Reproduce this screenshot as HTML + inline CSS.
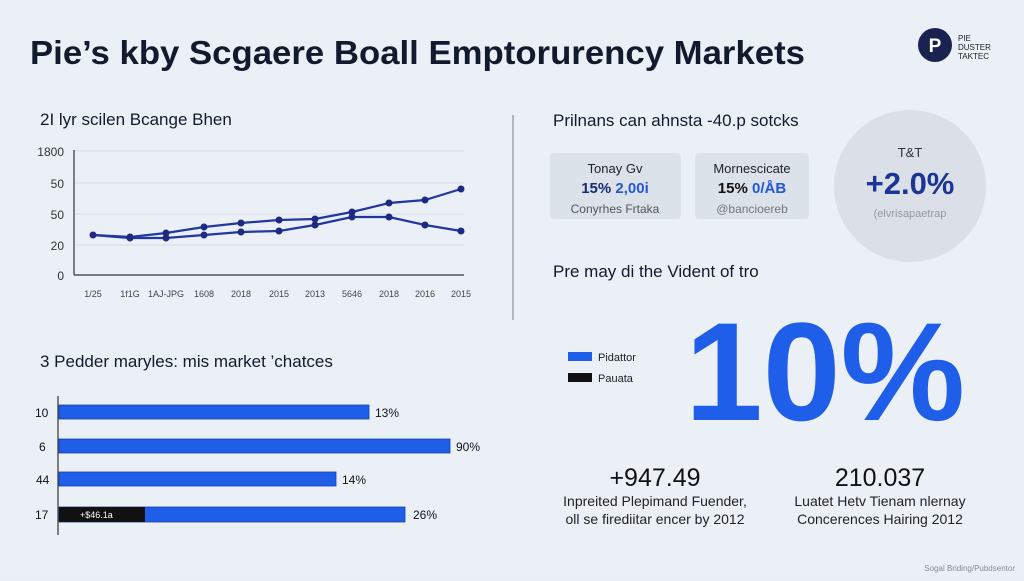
<!DOCTYPE html>
<html><head><meta charset="utf-8"><style>
body{margin:0;width:1024px;height:576px;overflow:hidden;background:#eaeff6;font-family:"Liberation Sans",sans-serif}
</style></head><body>
<svg width="1024" height="576" xmlns="http://www.w3.org/2000/svg" font-family="Liberation Sans, sans-serif">
<rect width="1024" height="576" fill="#ebf0f7"/>
<text x="30" y="64" font-size="33" font-weight="bold" fill="#121a2e" textLength="775" lengthAdjust="spacingAndGlyphs">Pie’s kby Scgaere Boall Emptorurency Markets</text>
<circle cx="935" cy="45" r="17" fill="#1a2250"/>
<text x="935" y="52" font-size="19" font-weight="bold" fill="#fff" text-anchor="middle">P</text>
<text x="958" y="41" font-size="8" fill="#222">PIE</text>
<text x="958" y="50" font-size="8" fill="#222">DUSTER</text>
<text x="958" y="59" font-size="8" fill="#222">TAKTEC</text>
<line x1="513" y1="115" x2="513" y2="320" stroke="#9aa3b0" stroke-width="1.5"/>
<text x="40" y="125" font-size="17" fill="#121a2e">2I lyr scilen Bcange Bhen</text>
<g stroke="#d6dce5" stroke-width="1"><line x1="74" y1="151" x2="464" y2="151"/><line x1="74" y1="183" x2="464" y2="183"/><line x1="74" y1="214" x2="464" y2="214"/><line x1="74" y1="245" x2="464" y2="245"/></g>
<line x1="74" y1="150" x2="74" y2="275" stroke="#333" stroke-width="1.2"/>
<line x1="74" y1="275" x2="464" y2="275" stroke="#333" stroke-width="1.2"/>
<g font-size="12" fill="#333" text-anchor="end"><text x="64" y="156">1800</text><text x="64" y="188">50</text><text x="64" y="219">50</text><text x="64" y="250">20</text><text x="64" y="280">0</text></g>
<g font-size="9" fill="#444" text-anchor="middle"><text x="93" y="297">1/25</text><text x="130" y="297">1f1G</text><text x="166" y="297">1AJ-JPG</text><text x="204" y="297">1608</text><text x="241" y="297">2018</text><text x="279" y="297">2015</text><text x="315" y="297">2013</text><text x="352" y="297">5646</text><text x="389" y="297">2018</text><text x="425" y="297">2016</text><text x="461" y="297">2015</text></g>
<g stroke="#2236a0" stroke-width="2.2" fill="none">
<polyline points="93,235 130,237 166,233 204,227 241,223 279,220 315,219 352,212 389,203 425,200 461,189"/>
<polyline points="93,235 130,238 166,238 204,235 241,232 279,231 315,225 352,217 389,217 425,225 461,231"/>
</g>
<g fill="#1d2a80">
<circle cx="93" cy="235" r="3.5"/><circle cx="130" cy="237" r="3.5"/><circle cx="166" cy="233" r="3.5"/><circle cx="204" cy="227" r="3.5"/><circle cx="241" cy="223" r="3.5"/><circle cx="279" cy="220" r="3.5"/><circle cx="315" cy="219" r="3.5"/><circle cx="352" cy="212" r="3.5"/><circle cx="389" cy="203" r="3.5"/><circle cx="425" cy="200" r="3.5"/><circle cx="461" cy="189" r="3.5"/>
<circle cx="130" cy="238" r="3.5"/><circle cx="166" cy="238" r="3.5"/><circle cx="204" cy="235" r="3.5"/><circle cx="241" cy="232" r="3.5"/><circle cx="279" cy="231" r="3.5"/><circle cx="315" cy="225" r="3.5"/><circle cx="352" cy="217" r="3.5"/><circle cx="389" cy="217" r="3.5"/><circle cx="425" cy="225" r="3.5"/><circle cx="461" cy="231" r="3.5"/>
</g>
<text x="40" y="367" font-size="17" fill="#121a2e">3 Pedder maryles: mis market ’chatces</text>
<line x1="58" y1="396" x2="58" y2="535" stroke="#333" stroke-width="1.2"/>
<g fill="#1f5ee8" stroke="#1a3fa0" stroke-width="0.8">
<rect x="59" y="405" width="310" height="14"/><rect x="59" y="439" width="391" height="14"/><rect x="59" y="472" width="277" height="14"/><rect x="59" y="507" width="346" height="15"/>
</g>
<rect x="59" y="507" width="86" height="15" fill="#111"/>
<text x="80" y="518" font-size="9" fill="#fff">+$46.1a</text>
<g font-size="12" fill="#111"><text x="35" y="417">10</text><text x="39" y="451">6</text><text x="36" y="484">44</text><text x="35" y="519">17</text>
<text x="375" y="417">13%</text><text x="456" y="451">90%</text><text x="342" y="484">14%</text><text x="413" y="519">26%</text></g>
<text x="553" y="126" font-size="17" fill="#121a2e">Prilnans can ahnsta -40.p sotcks</text>
<rect x="550" y="153" width="131" height="66" rx="4" fill="#dce2ea"/>
<rect x="695" y="153" width="114" height="66" rx="4" fill="#dce2ea"/>
<g text-anchor="middle">
<text x="615" y="173" font-size="13" fill="#222">Tonay Gv</text>
<text x="615" y="193" font-size="15" font-weight="bold" fill="#1a2a70">15% <tspan fill="#2457d6">2,00i</tspan></text>
<text x="615" y="213" font-size="12" fill="#555">Conyrhes Frtaka</text>
<text x="752" y="173" font-size="13" fill="#222">Mornescicate</text>
<text x="752" y="193" font-size="15" font-weight="bold" fill="#111">15% <tspan fill="#2457d6">0/ÅB</tspan></text>
<text x="752" y="213" font-size="12" fill="#777">@bancioereb</text>
</g>
<circle cx="910" cy="186" r="76" fill="#dbe0e8"/>
<text x="910" y="157" font-size="13" fill="#333" text-anchor="middle">T&amp;T</text>
<text x="910" y="194" font-size="31" font-weight="bold" fill="#1b3595" text-anchor="middle">+2.0%</text>
<text x="910" y="217" font-size="11" fill="#999" text-anchor="middle">(elvrisapaetrap</text>
<text x="553" y="277" font-size="17" fill="#121a2e">Pre may di the Vident of tro</text>
<rect x="568" y="352" width="24" height="9" fill="#1f5ee8"/>
<rect x="568" y="373" width="24" height="9" fill="#111"/>
<text x="598" y="361" font-size="11" fill="#222">Pidattor</text>
<text x="598" y="382" font-size="11" fill="#222">Pauata</text>
<text x="825" y="420" font-size="140" font-weight="bold" fill="#1f5ee8" text-anchor="middle">10%</text>
<g text-anchor="middle">
<text x="655" y="486" font-size="25" fill="#111">+947.49</text>
<text x="655" y="506" font-size="14" fill="#222">Inpreited Plepimand Fuender,</text>
<text x="655" y="524" font-size="14" fill="#222">oll se firediitar encer by 2012</text>
<text x="880" y="486" font-size="25" fill="#111">210.037</text>
<text x="880" y="506" font-size="14" fill="#222">Luatet Hetv Tienam nlernay</text>
<text x="880" y="524" font-size="14" fill="#222">Concerences Hairing 2012</text>
</g>
<text x="1015" y="571" font-size="8" fill="#889" text-anchor="end">Sogal Briding/Pubdsentor</text>
</svg>
</body></html>
